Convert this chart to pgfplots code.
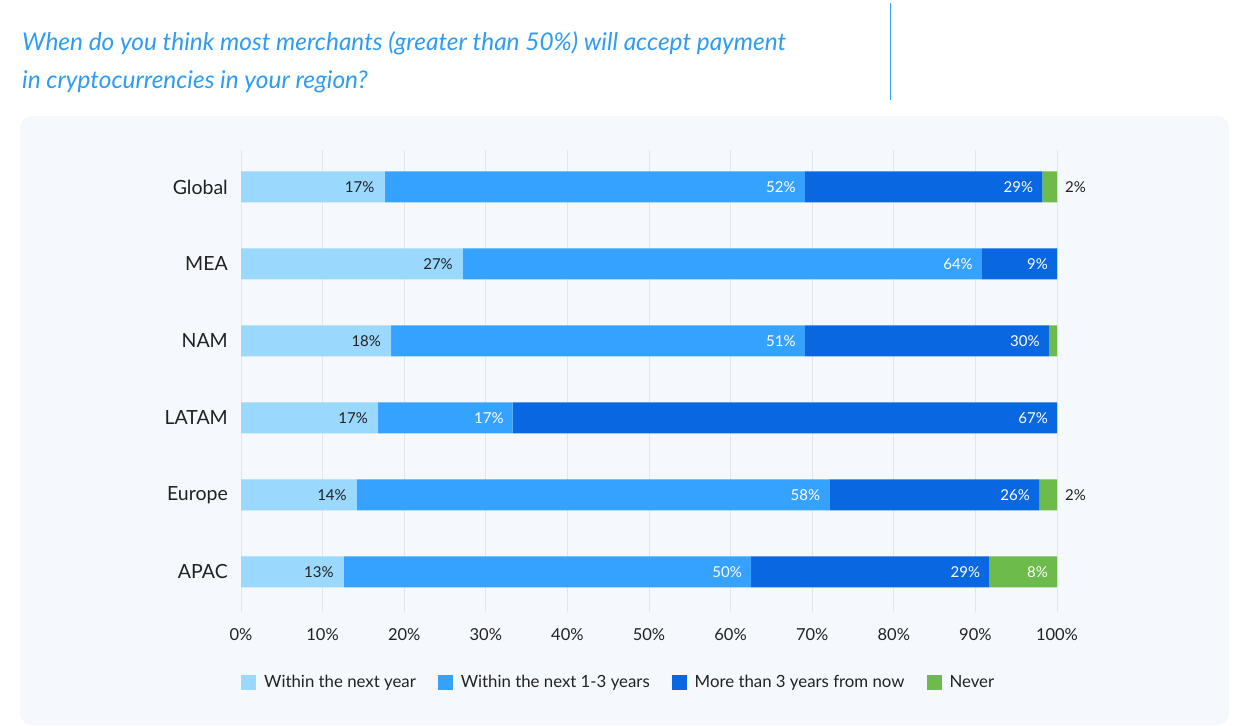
\documentclass[border=0pt]{standalone}
\usepackage{pgfplots}
\pgfplotsset{compat=1.18}
\usepackage{pgfplotstable}
\usepackage{fontspec}
\setmainfont{Lato}
\definecolor{cLight}{HTML}{9AD8FD}
\definecolor{cBlue}{HTML}{36A2FF}
\definecolor{cDark}{HTML}{0A67E2}
\definecolor{cGreen}{HTML}{6CBB4B}
\definecolor{cTitle}{HTML}{2E9CF5}
\definecolor{cPanel}{HTML}{F5F9FE}
\definecolor{cGrid}{HTML}{E2E6EB}
\definecolor{cText}{HTML}{222222}

% y: 0=APAC ... 5=Global
\pgfplotstableread{
y  x     lbl
0  12.6  13\%
1  14.2  14\%
2  16.8  17\%
3  18.4  18\%
4  27.2  27\%
5  17.6  17\%
}\tWithinYear
\pgfplotstableread{
y  x     lbl
0  49.9  50\%
1  57.9  58\%
2  16.5  17\%
3  50.7  51\%
4  63.6  64\%
5  51.5  52\%
}\tWithinThree
\pgfplotstableread{
y  x     lbl
0  29.2  29\%
1  25.7  26\%
2  66.7  67\%
3  29.9  30\%
4  9.2   9\%
5  29.1  29\%
}\tMoreThree
\pgfplotstableread{
y  x     lbl                     xs
0  8.3   \textcolor{white}{8\%}  -19.5
1  2.2   2\%                     18.5
2  0.0   {}                      0
3  1.0   {}                      0
4  0.0   {}                      0
5  1.8   2\%                     18.5
}\tNever

\begin{document}
\begin{tikzpicture}
\useasboundingbox (0pt,0pt) rectangle (1254pt,-726pt);
\fill[white] (0pt,0pt) rectangle (1254pt,-726pt);
\fill[cPanel, rounded corners=12pt] (20pt,-116pt) rectangle (1229pt,-725pt);
\draw[cBlue, line width=1pt] (890pt,-3pt) -- (890pt,-100pt);
\node[anchor=base west, inner sep=0pt, text=cTitle, font=\fontsize{24.4}{28}\selectfont\itshape] at (22pt,-50pt) {When do you think most merchants (greater than 50\%) will accept payment};
\node[anchor=base west, inner sep=0pt, text=cTitle, font=\fontsize{24.4}{28}\selectfont\itshape] at (22pt,-88pt) {in cryptocurrencies in your region?};

\begin{axis}[
  at={(241pt,-612pt)}, anchor=south west,
  scale only axis, width=816pt, height=462pt,
  xbar stacked, bar width=31pt,
  xmin=0, xmax=100, ymin=-0.52, ymax=5.48,
  axis line style={draw=none},
  xmajorgrids, major grid style={cGrid, line width=0.8pt},
  major tick length=0pt,
  xtick={0,10,...,100},
  xticklabel={\pgfmathprintnumber{\tick}\%},
  xticklabel style={font=\fontsize{16.5}{19}\selectfont, text=cText, yshift=-13pt},
  /pgf/number format/assume math mode=true,
  ytick={0,1,2,3,4,5},
  yticklabels={APAC,Europe,LATAM,NAM,MEA,Global},
  yticklabel style={font=\fontsize{19.5}{23}\selectfont, text=cText, inner sep=0pt, xshift=-13pt},
  nodes near coords,
  point meta=explicit symbolic,
  visualization depends on={\thisrow{x} \as \segw},
  every node near coord/.append style={font=\fontsize{15}{18}\selectfont, inner sep=0pt},
  legend columns=4,
  legend style={at={(0,-0.1515)}, anchor=west, draw=none, fill=none, inner sep=0pt,
    font=\fontsize{16.8}{20}\selectfont, text=cText,
    /tikz/every even column/.append style={column sep=20pt},
    /tikz/every odd column/.append style={column sep=6pt}},
  legend image code/.code={\fill[#1] (0pt,-7.5pt) rectangle (15pt,7.5pt);},
]
\addplot[fill=cLight, draw=none, every node near coord/.append style={text=cText, anchor=east, xshift=\segw*4.08pt-10pt}] table[x=x, y=y, meta=lbl] {\tWithinYear};
\addplot[fill=cBlue, draw=none, every node near coord/.append style={text=white, anchor=east, xshift=\segw*4.08pt-9pt}] table[x=x, y=y, meta=lbl] {\tWithinThree};
\addplot[fill=cDark, draw=none, every node near coord/.append style={text=white, anchor=east, xshift=\segw*4.08pt-9pt}] table[x=x, y=y, meta=lbl] {\tMoreThree};
\addplot[fill=cGreen, draw=none,
  visualization depends on={\thisrow{xs} \as \myxs},
  every node near coord/.append style={anchor=center, xshift=\segw*4.08pt+\myxs pt, text=cText}] table[x=x, y=y, meta=lbl] {\tNever};
\legend{Within the next year, Within the next 1-3 years, More than 3 years from now, Never}
\end{axis}
\end{tikzpicture}
\end{document}
